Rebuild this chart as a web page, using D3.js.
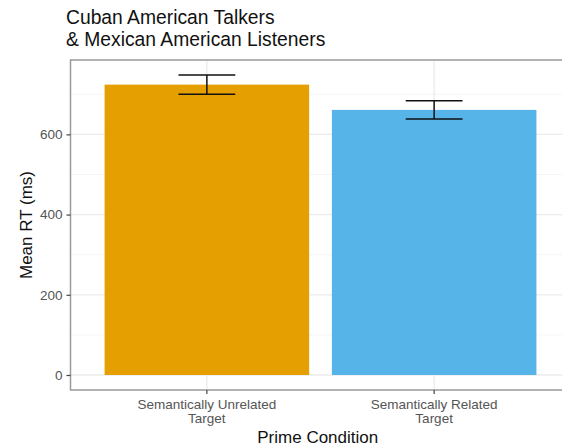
<!DOCTYPE html>
<html>
<head>
<meta charset="utf-8">
<script src="https://cdn.jsdelivr.net/npm/d3@7"></script>
<style>
  html, body { margin: 0; padding: 0; background: #fff; }
  svg { display: block; font-family: "Liberation Sans", Arial, sans-serif; }
</style>
</head>
<body>
<svg id="chart" width="562" height="446"></svg>
<script>
// Mean response times by prime condition, with error bars
const categories = ["Semantically Unrelated\nTarget", "Semantically Related\nTarget"];
const meanRT = [724, 661];
const errLow = [700, 638];
const errHigh = [748, 684];
const barColors = ["#E69F00", "#56B4E9"];
const yTicks = [0, 200, 400, 600];
const yMinor = [100, 300, 500, 700];

const svg = d3.select("#chart");
const panel = { left: 70.5, right: 570.5, top: 60, bottom: 390 };

// ggplot-style 5% expansion of the data range
const yMax = d3.max(errHigh);
const yScale = d3.scaleLinear()
  .domain([-0.05 * yMax, yMax * 1.05])
  .range([panel.bottom, panel.top]);

const xScale = d3.scaleBand()
  .domain(categories)
  .range([panel.left, panel.right])
  .paddingInner(0.1)
  .paddingOuter(0.15);
const step = xScale.step();
const cx = c => xScale(c) + xScale.bandwidth() / 2;

const g = svg.append("g");

// panel grid
g.selectAll("line.minor").data(yMinor).join("line")
  .attr("x1", panel.left).attr("x2", panel.right)
  .attr("y1", d => yScale(d)).attr("y2", d => yScale(d))
  .attr("stroke", "#F3F3F3").attr("stroke-width", 0.8);
g.selectAll("line.major").data(yTicks).join("line")
  .attr("x1", panel.left).attr("x2", panel.right)
  .attr("y1", d => yScale(d)).attr("y2", d => yScale(d))
  .attr("stroke", "#EBEBEB").attr("stroke-width", 1.3);
g.selectAll("line.vgrid").data(categories).join("line")
  .attr("x1", d => cx(d)).attr("x2", d => cx(d))
  .attr("y1", panel.top).attr("y2", panel.bottom)
  .attr("stroke", "#EBEBEB").attr("stroke-width", 1.3);

// bars
g.selectAll("rect.bar").data(categories).join("rect")
  .attr("x", d => xScale(d))
  .attr("width", xScale.bandwidth())
  .attr("y", (d, i) => yScale(meanRT[i]))
  .attr("height", (d, i) => yScale(0) - yScale(meanRT[i]))
  .attr("fill", (d, i) => barColors[i]);

// error bars
const ew = step * 0.25;
const eb = g.selectAll("g.err").data(categories).join("g")
  .attr("stroke", "#111").attr("stroke-width", 1.5).attr("fill", "none");
eb.append("line")
  .attr("x1", d => cx(d)).attr("x2", d => cx(d))
  .attr("y1", (d, i) => yScale(errLow[i])).attr("y2", (d, i) => yScale(errHigh[i]));
eb.append("line")
  .attr("x1", d => cx(d) - ew / 2).attr("x2", d => cx(d) + ew / 2)
  .attr("y1", (d, i) => yScale(errHigh[i])).attr("y2", (d, i) => yScale(errHigh[i]));
eb.append("line")
  .attr("x1", d => cx(d) - ew / 2).attr("x2", d => cx(d) + ew / 2)
  .attr("y1", (d, i) => yScale(errLow[i])).attr("y2", (d, i) => yScale(errLow[i]));

// panel border
g.append("rect")
  .attr("x", panel.left).attr("y", panel.top)
  .attr("width", panel.right - panel.left).attr("height", panel.bottom - panel.top)
  .attr("fill", "none").attr("stroke", "#9A9A9A").attr("stroke-width", 1.5);

// y axis
const yAxis = svg.append("g")
  .attr("transform", `translate(${panel.left},0)`)
  .call(d3.axisLeft(yScale).tickValues(yTicks).tickSize(4).tickPadding(4));
yAxis.select(".domain").remove();
yAxis.selectAll(".tick line").attr("stroke", "#444").attr("stroke-width", 1.2);
yAxis.selectAll(".tick text")
  .attr("fill", "#555").style("font-size", "13.5px")
  .style("font-family", "'Liberation Sans', Arial, sans-serif");

// x axis
const xAxis = svg.append("g")
  .attr("transform", `translate(0,${panel.bottom})`)
  .call(d3.axisBottom(xScale).tickSize(4).tickPadding(4).tickFormat(""));
xAxis.select(".domain").remove();
xAxis.selectAll(".tick line").attr("stroke", "#444").attr("stroke-width", 1.2);
xAxis.selectAll(".tick").each(function(d) {
  const t = d3.select(this).append("text")
    .attr("fill", "#555").attr("text-anchor", "middle")
    .style("font-size", "13.5px")
    .style("font-family", "'Liberation Sans', Arial, sans-serif");
  d.split("\n").forEach((line, i) => {
    t.append("tspan").attr("x", 0).attr("y", 19 + i * 14).text(line);
  });
});

// axis titles
svg.append("text")
  .attr("x", (panel.left + 565) / 2).attr("y", 443)
  .attr("text-anchor", "middle").attr("fill", "#111")
  .style("font-size", "17px")
  .text("Prime Condition");
svg.append("text")
  .attr("transform", `translate(32,${(panel.top + panel.bottom) / 2}) rotate(-90)`)
  .attr("text-anchor", "middle").attr("fill", "#111")
  .style("font-size", "17px")
  .text("Mean RT (ms)");

// title
const title = svg.append("text")
  .attr("x", 66).attr("fill", "#111")
  .style("font-size", "19.3px");
title.append("tspan").attr("x", 66).attr("y", 24).text("Cuban American Talkers");
title.append("tspan").attr("x", 66).attr("y", 45.5).text("& Mexican American Listeners");
</script>
</body>
</html>
